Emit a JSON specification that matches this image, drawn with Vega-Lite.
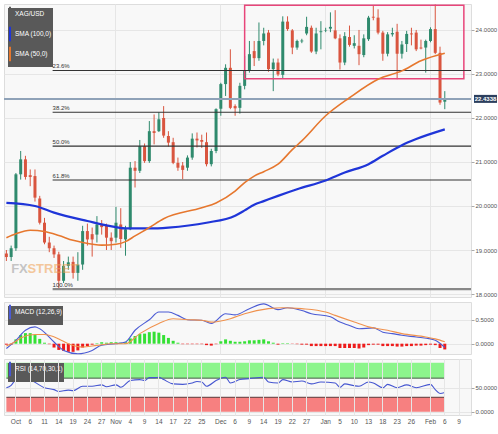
{
  "$schema": "https://vega.github.io/schema/vega-lite/v6.json",
  "padding": {"left": 1, "top": 3, "right": 0, "bottom": 0},
  "spacing": 5,
  "bounds": "flush",
  "background": "#ffffff",
  "config": {
    "font": "Liberation Sans Narrow, Liberation Sans, sans-serif",
    "view": {"stroke": "#dddddd", "fill": "#f8f8f8"},
    "axis": {"labelFont": "Liberation Sans Narrow, Liberation Sans, sans-serif", "labelFontSize": 6, "labelColor": "#555555", "tickColor": "#aaaaaa", "domain": false, "gridColor": "#e6e6e6", "title": null},
    "legend": {"orient": "top-left", "offset": 4, "fillColor": "#595959", "padding": 1, "labelColor": "#ffffff", "labelFontSize": 6.5, "labelFont": "Liberation Sans Narrow, Liberation Sans, sans-serif", "symbolType": "M-1,-1.8V1.8", "symbolSize": 64, "symbolStrokeWidth": 2, "rowPadding": 4, "labelOffset": -4}
  },
  "resolve": {"scale": {"color": "independent"}, "legend": {"color": "independent"}},
  "datasets": {
    "candles": [
      {"date":"2022-09-29","open":18.92,"high":19.00,"low":18.75,"close":18.84},
      {"date":"2022-09-30","open":18.84,"high":19.10,"low":18.75,"close":19.04},
      {"date":"2022-10-03","open":19.04,"high":20.75,"low":18.98,"close":20.72},
      {"date":"2022-10-04","open":20.72,"high":21.25,"low":20.60,"close":21.06},
      {"date":"2022-10-05","open":21.06,"high":21.14,"low":20.60,"close":20.66},
      {"date":"2022-10-06","open":20.70,"high":20.83,"low":20.45,"close":20.66},
      {"date":"2022-10-07","open":20.68,"high":20.83,"low":20.10,"close":20.19},
      {"date":"2022-10-10","open":20.17,"high":20.23,"low":19.58,"close":19.62},
      {"date":"2022-10-11","open":19.62,"high":19.73,"low":19.13,"close":19.17},
      {"date":"2022-10-12","open":19.17,"high":19.30,"low":18.95,"close":19.04},
      {"date":"2022-10-13","open":19.04,"high":19.10,"low":18.82,"close":18.90},
      {"date":"2022-10-14","open":18.90,"high":18.96,"low":18.11,"close":18.30},
      {"date":"2022-10-17","open":18.30,"high":18.75,"low":18.25,"close":18.64},
      {"date":"2022-10-18","open":18.64,"high":18.85,"low":18.55,"close":18.72},
      {"date":"2022-10-19","open":18.73,"high":18.85,"low":18.35,"close":18.48},
      {"date":"2022-10-20","open":18.48,"high":18.95,"low":18.30,"close":18.67},
      {"date":"2022-10-21","open":18.67,"high":19.55,"low":18.55,"close":19.43},
      {"date":"2022-10-24","open":19.43,"high":19.60,"low":19.10,"close":19.24},
      {"date":"2022-10-25","open":19.36,"high":19.51,"low":18.85,"close":19.24},
      {"date":"2022-10-26","open":19.35,"high":19.77,"low":19.17,"close":19.58},
      {"date":"2022-10-27","open":19.58,"high":19.68,"low":19.35,"close":19.52},
      {"date":"2022-10-28","open":19.55,"high":19.60,"low":19.00,"close":19.28},
      {"date":"2022-10-31","open":19.28,"high":19.40,"low":19.00,"close":19.20},
      {"date":"2022-11-01","open":19.28,"high":19.98,"low":19.17,"close":19.62},
      {"date":"2022-11-02","open":19.58,"high":19.95,"low":19.05,"close":19.25},
      {"date":"2022-11-03","open":19.24,"high":19.55,"low":18.87,"close":19.47},
      {"date":"2022-11-04","open":19.47,"high":21.00,"low":19.45,"close":20.87},
      {"date":"2022-11-07","open":20.87,"high":21.02,"low":20.42,"close":20.80},
      {"date":"2022-11-08","open":20.80,"high":21.50,"low":20.75,"close":21.36},
      {"date":"2022-11-09","open":21.36,"high":21.42,"low":20.98,"close":21.02},
      {"date":"2022-11-10","open":21.02,"high":21.93,"low":20.98,"close":21.70},
      {"date":"2022-11-11","open":21.70,"high":22.08,"low":21.40,"close":21.66},
      {"date":"2022-11-14","open":21.70,"high":22.13,"low":21.68,"close":21.97},
      {"date":"2022-11-15","open":22.00,"high":22.27,"low":21.55,"close":21.60},
      {"date":"2022-11-16","open":21.59,"high":21.70,"low":21.35,"close":21.44},
      {"date":"2022-11-17","open":21.45,"high":21.55,"low":20.95,"close":20.98},
      {"date":"2022-11-18","open":20.98,"high":21.10,"low":20.80,"close":20.87},
      {"date":"2022-11-21","open":20.92,"high":21.00,"low":20.61,"close":20.82},
      {"date":"2022-11-22","open":20.87,"high":21.15,"low":20.80,"close":21.10},
      {"date":"2022-11-23","open":21.10,"high":21.65,"low":21.05,"close":21.53},
      {"date":"2022-11-24","open":21.53,"high":21.67,"low":21.33,"close":21.49},
      {"date":"2022-11-25","open":21.50,"high":21.62,"low":21.32,"close":21.46},
      {"date":"2022-11-28","open":21.45,"high":21.67,"low":20.90,"close":20.95},
      {"date":"2022-11-29","open":20.95,"high":21.30,"low":20.90,"close":21.25},
      {"date":"2022-11-30","open":21.25,"high":22.22,"low":21.20,"close":22.20},
      {"date":"2022-12-01","open":22.21,"high":22.80,"low":22.05,"close":22.77},
      {"date":"2022-12-02","open":22.77,"high":23.22,"low":22.50,"close":23.14},
      {"date":"2022-12-05","open":23.14,"high":23.56,"low":22.20,"close":22.23},
      {"date":"2022-12-06","open":22.27,"high":22.31,"low":22.05,"close":22.22},
      {"date":"2022-12-07","open":22.23,"high":22.80,"low":22.10,"close":22.73},
      {"date":"2022-12-08","open":22.73,"high":23.41,"low":22.65,"close":23.07},
      {"date":"2022-12-09","open":23.07,"high":23.75,"low":23.03,"close":23.45},
      {"date":"2022-12-12","open":23.52,"high":23.75,"low":23.18,"close":23.36},
      {"date":"2022-12-13","open":23.36,"high":24.17,"low":23.30,"close":23.75},
      {"date":"2022-12-14","open":23.75,"high":24.05,"low":23.65,"close":23.92},
      {"date":"2022-12-15","open":23.94,"high":24.00,"low":23.05,"close":23.11},
      {"date":"2022-12-16","open":23.11,"high":23.35,"low":22.61,"close":23.26},
      {"date":"2022-12-19","open":23.26,"high":23.35,"low":22.95,"close":22.99},
      {"date":"2022-12-20","open":22.98,"high":24.31,"low":22.90,"close":24.19},
      {"date":"2022-12-21","open":24.19,"high":24.31,"low":23.98,"close":24.02},
      {"date":"2022-12-22","open":23.99,"high":24.02,"low":23.45,"close":23.60},
      {"date":"2022-12-23","open":23.60,"high":23.78,"low":23.55,"close":23.75},
      {"date":"2022-12-26","open":23.74,"high":23.80,"low":23.70,"close":23.76},
      {"date":"2022-12-27","open":23.92,"high":24.30,"low":23.88,"close":24.07},
      {"date":"2022-12-28","open":24.05,"high":24.10,"low":23.48,"close":23.51},
      {"date":"2022-12-29","open":23.51,"high":24.05,"low":23.45,"close":23.92},
      {"date":"2022-12-30","open":23.95,"high":24.20,"low":23.56,"close":23.97},
      {"date":"2023-01-02","open":23.99,"high":24.05,"low":23.95,"close":24.00},
      {"date":"2023-01-03","open":24.03,"high":24.40,"low":23.95,"close":24.07},
      {"date":"2023-01-04","open":23.99,"high":24.45,"low":23.79,"close":23.81},
      {"date":"2023-01-05","open":23.81,"high":23.90,"low":23.10,"close":23.26},
      {"date":"2023-01-06","open":23.26,"high":23.95,"low":23.20,"close":23.86},
      {"date":"2023-01-09","open":23.84,"high":24.10,"low":23.62,"close":23.66},
      {"date":"2023-01-10","open":23.64,"high":23.88,"low":23.58,"close":23.70},
      {"date":"2023-01-11","open":23.64,"high":24.00,"low":23.20,"close":23.45},
      {"date":"2023-01-12","open":23.43,"high":23.90,"low":23.38,"close":23.81},
      {"date":"2023-01-13","open":23.79,"high":24.32,"low":23.75,"close":24.28},
      {"date":"2023-01-16","open":24.30,"high":24.55,"low":24.22,"close":24.28},
      {"date":"2023-01-17","open":24.28,"high":24.47,"low":23.90,"close":23.94},
      {"date":"2023-01-18","open":23.94,"high":23.98,"low":23.30,"close":23.46},
      {"date":"2023-01-19","open":23.46,"high":23.95,"low":23.40,"close":23.90},
      {"date":"2023-01-20","open":23.90,"high":24.05,"low":23.85,"close":23.93},
      {"date":"2023-01-23","open":23.96,"high":24.14,"low":22.88,"close":23.46},
      {"date":"2023-01-24","open":23.46,"high":23.75,"low":23.35,"close":23.67},
      {"date":"2023-01-25","open":23.68,"high":23.98,"low":23.50,"close":23.91},
      {"date":"2023-01-26","open":23.92,"high":24.05,"low":23.65,"close":23.90},
      {"date":"2023-01-27","open":23.94,"high":24.00,"low":23.52,"close":23.56},
      {"date":"2023-01-30","open":23.60,"high":23.78,"low":23.56,"close":23.58},
      {"date":"2023-01-31","open":23.60,"high":23.78,"low":23.03,"close":23.75},
      {"date":"2023-02-01","open":23.75,"high":24.06,"low":23.72,"close":24.02},
      {"date":"2023-02-02","open":24.02,"high":24.58,"low":23.45,"close":23.48},
      {"date":"2023-02-03","open":23.48,"high":23.62,"low":22.30,"close":22.35},
      {"date":"2023-02-06","open":22.37,"high":22.61,"low":22.20,"close":22.43}
    ],
    "sma": [
      {"date":"2022-09-29","series":"SMA (100,0)","value":20.07},
      {"date":"2022-10-07","series":"SMA (100,0)","value":20.00},
      {"date":"2022-10-13","series":"SMA (100,0)","value":19.85},
      {"date":"2022-10-24","series":"SMA (100,0)","value":19.66},
      {"date":"2022-11-01","series":"SMA (100,0)","value":19.52},
      {"date":"2022-11-03","series":"SMA (100,0)","value":19.49},
      {"date":"2022-11-10","series":"SMA (100,0)","value":19.49},
      {"date":"2022-11-16","series":"SMA (100,0)","value":19.51},
      {"date":"2022-11-28","series":"SMA (100,0)","value":19.62},
      {"date":"2022-12-06","series":"SMA (100,0)","value":19.78},
      {"date":"2022-12-08","series":"SMA (100,0)","value":19.90},
      {"date":"2022-12-12","series":"SMA (100,0)","value":20.03},
      {"date":"2022-12-14","series":"SMA (100,0)","value":20.11},
      {"date":"2022-12-19","series":"SMA (100,0)","value":20.23},
      {"date":"2022-12-23","series":"SMA (100,0)","value":20.38},
      {"date":"2023-01-02","series":"SMA (100,0)","value":20.58},
      {"date":"2023-01-06","series":"SMA (100,0)","value":20.76},
      {"date":"2023-01-13","series":"SMA (100,0)","value":20.95},
      {"date":"2023-01-18","series":"SMA (100,0)","value":21.14},
      {"date":"2023-01-24","series":"SMA (100,0)","value":21.38},
      {"date":"2023-01-27","series":"SMA (100,0)","value":21.52},
      {"date":"2023-02-06","series":"SMA (100,0)","value":21.74},
      {"date":"2022-09-29","series":"SMA (50,0)","value":19.28},
      {"date":"2022-10-03","series":"SMA (50,0)","value":19.37},
      {"date":"2022-10-06","series":"SMA (50,0)","value":19.45},
      {"date":"2022-10-11","series":"SMA (50,0)","value":19.42},
      {"date":"2022-10-14","series":"SMA (50,0)","value":19.33},
      {"date":"2022-10-19","series":"SMA (50,0)","value":19.22},
      {"date":"2022-10-21","series":"SMA (50,0)","value":19.17},
      {"date":"2022-10-27","series":"SMA (50,0)","value":19.11},
      {"date":"2022-11-01","series":"SMA (50,0)","value":19.13},
      {"date":"2022-11-03","series":"SMA (50,0)","value":19.19},
      {"date":"2022-11-07","series":"SMA (50,0)","value":19.32},
      {"date":"2022-11-10","series":"SMA (50,0)","value":19.51},
      {"date":"2022-11-15","series":"SMA (50,0)","value":19.71},
      {"date":"2022-11-25","series":"SMA (50,0)","value":19.96},
      {"date":"2022-11-30","series":"SMA (50,0)","value":20.07},
      {"date":"2022-12-06","series":"SMA (50,0)","value":20.34},
      {"date":"2022-12-08","series":"SMA (50,0)","value":20.53},
      {"date":"2022-12-12","series":"SMA (50,0)","value":20.68},
      {"date":"2022-12-14","series":"SMA (50,0)","value":20.78},
      {"date":"2022-12-19","series":"SMA (50,0)","value":20.95},
      {"date":"2022-12-22","series":"SMA (50,0)","value":21.28},
      {"date":"2022-12-26","series":"SMA (50,0)","value":21.48},
      {"date":"2023-01-02","series":"SMA (50,0)","value":22.05},
      {"date":"2023-01-09","series":"SMA (50,0)","value":22.46},
      {"date":"2023-01-17","series":"SMA (50,0)","value":22.88},
      {"date":"2023-01-24","series":"SMA (50,0)","value":23.07},
      {"date":"2023-01-30","series":"SMA (50,0)","value":23.30},
      {"date":"2023-02-06","series":"SMA (50,0)","value":23.47}
    ],
    "fib": [
      {"level":"23.6%","price":23.08},
      {"level":"38.2%","price":22.13},
      {"level":"50.0%","price":21.36},
      {"level":"61.8%","price":20.59},
      {"level":"100.0%","price":18.11}
    ],
    "macdhist": [
      {"date":"2022-09-29","hist":-0.02},{"date":"2022-09-30","hist":-0.02},{"date":"2022-10-03","hist":0.09},{"date":"2022-10-04","hist":0.18},{"date":"2022-10-05","hist":0.22},{"date":"2022-10-06","hist":0.22},{"date":"2022-10-07","hist":0.18},{"date":"2022-10-10","hist":0.10},{"date":"2022-10-11","hist":0.02},{"date":"2022-10-12","hist":-0.01},{"date":"2022-10-13","hist":-0.08},{"date":"2022-10-14","hist":-0.13},{"date":"2022-10-17","hist":-0.15},{"date":"2022-10-18","hist":-0.17},{"date":"2022-10-19","hist":-0.17},{"date":"2022-10-20","hist":-0.14},{"date":"2022-10-21","hist":-0.08},{"date":"2022-10-24","hist":-0.05},{"date":"2022-10-25","hist":-0.02},{"date":"2022-10-26","hist":0.01},{"date":"2022-10-27","hist":0.03},{"date":"2022-10-28","hist":0.02},{"date":"2022-10-31","hist":0.03},
      {"date":"2022-11-01","hist":0.03},{"date":"2022-11-02","hist":0.02},{"date":"2022-11-03","hist":0.03},{"date":"2022-11-04","hist":0.11},{"date":"2022-11-07","hist":0.16},{"date":"2022-11-08","hist":0.20},{"date":"2022-11-09","hist":0.21},{"date":"2022-11-10","hist":0.24},{"date":"2022-11-11","hist":0.25},{"date":"2022-11-14","hist":0.23},{"date":"2022-11-15","hist":0.18},{"date":"2022-11-16","hist":0.12},{"date":"2022-11-17","hist":0.06},{"date":"2022-11-18","hist":0.02},{"date":"2022-11-21","hist":-0.01},{"date":"2022-11-22","hist":-0.01},{"date":"2022-11-23","hist":-0.01},{"date":"2022-11-24","hist":-0.01},{"date":"2022-11-25","hist":-0.01},{"date":"2022-11-28","hist":-0.03},{"date":"2022-11-29","hist":-0.04},{"date":"2022-11-30","hist":-0.01},
      {"date":"2022-12-01","hist":0.05},{"date":"2022-12-02","hist":0.09},{"date":"2022-12-05","hist":0.06},{"date":"2022-12-06","hist":0.04},{"date":"2022-12-07","hist":0.04},{"date":"2022-12-08","hist":0.05},{"date":"2022-12-09","hist":0.07},{"date":"2022-12-12","hist":0.07},{"date":"2022-12-13","hist":0.08},{"date":"2022-12-14","hist":0.09},{"date":"2022-12-15","hist":0.05},{"date":"2022-12-16","hist":0.02},{"date":"2022-12-19","hist":-0.02},{"date":"2022-12-20","hist":0.01},{"date":"2022-12-21","hist":0.01},{"date":"2022-12-22","hist":-0.005},{"date":"2022-12-23","hist":-0.01},{"date":"2022-12-26","hist":-0.02},{"date":"2022-12-27","hist":-0.02},{"date":"2022-12-28","hist":-0.05},{"date":"2022-12-29","hist":-0.05},{"date":"2022-12-30","hist":-0.05},
      {"date":"2023-01-02","hist":-0.05},{"date":"2023-01-03","hist":-0.05},{"date":"2023-01-04","hist":-0.05},{"date":"2023-01-05","hist":-0.09},{"date":"2023-01-06","hist":-0.09},{"date":"2023-01-09","hist":-0.09},{"date":"2023-01-10","hist":-0.09},{"date":"2023-01-11","hist":-0.10},{"date":"2023-01-12","hist":-0.08},{"date":"2023-01-13","hist":-0.03},{"date":"2023-01-16","hist":-0.02},{"date":"2023-01-17","hist":-0.02},{"date":"2023-01-18","hist":-0.05},{"date":"2023-01-19","hist":-0.05},{"date":"2023-01-20","hist":-0.05},{"date":"2023-01-23","hist":-0.06},{"date":"2023-01-24","hist":-0.06},{"date":"2023-01-25","hist":-0.05},{"date":"2023-01-26","hist":-0.05},{"date":"2023-01-27","hist":-0.04},{"date":"2023-01-30","hist":-0.04},{"date":"2023-01-31","hist":-0.03},
      {"date":"2023-02-01","hist":-0.02},{"date":"2023-02-02","hist":-0.03},{"date":"2023-02-03","hist":-0.09},{"date":"2023-02-06","hist":-0.12}
    ],
    "macdline": [
      {"date":"2022-09-29","series":"MACD (12,26,9)","value":-0.10},
      {"date":"2022-10-03","series":"MACD (12,26,9)","value":0.07},
      {"date":"2022-10-05","series":"MACD (12,26,9)","value":0.28},
      {"date":"2022-10-07","series":"MACD (12,26,9)","value":0.35},
      {"date":"2022-10-10","series":"MACD (12,26,9)","value":0.31},
      {"date":"2022-10-13","series":"MACD (12,26,9)","value":0.035},
      {"date":"2022-10-17","series":"MACD (12,26,9)","value":-0.14},
      {"date":"2022-10-20","series":"MACD (12,26,9)","value":-0.21},
      {"date":"2022-10-25","series":"MACD (12,26,9)","value":-0.14},
      {"date":"2022-10-27","series":"MACD (12,26,9)","value":-0.03},
      {"date":"2022-11-01","series":"MACD (12,26,9)","value":0.0},
      {"date":"2022-11-03","series":"MACD (12,26,9)","value":0.035},
      {"date":"2022-11-07","series":"MACD (12,26,9)","value":0.28},
      {"date":"2022-11-10","series":"MACD (12,26,9)","value":0.50},
      {"date":"2022-11-14","series":"MACD (12,26,9)","value":0.66},
      {"date":"2022-11-16","series":"MACD (12,26,9)","value":0.66},
      {"date":"2022-11-18","series":"MACD (12,26,9)","value":0.59},
      {"date":"2022-11-22","series":"MACD (12,26,9)","value":0.50},
      {"date":"2022-11-25","series":"MACD (12,26,9)","value":0.49},
      {"date":"2022-11-29","series":"MACD (12,26,9)","value":0.42},
      {"date":"2022-12-02","series":"MACD (12,26,9)","value":0.625},
      {"date":"2022-12-06","series":"MACD (12,26,9)","value":0.60},
      {"date":"2022-12-09","series":"MACD (12,26,9)","value":0.73},
      {"date":"2022-12-14","series":"MACD (12,26,9)","value":0.83},
      {"date":"2022-12-19","series":"MACD (12,26,9)","value":0.71},
      {"date":"2022-12-21","series":"MACD (12,26,9)","value":0.75},
      {"date":"2022-12-26","series":"MACD (12,26,9)","value":0.69},
      {"date":"2022-12-28","series":"MACD (12,26,9)","value":0.625},
      {"date":"2023-01-03","series":"MACD (12,26,9)","value":0.56},
      {"date":"2023-01-05","series":"MACD (12,26,9)","value":0.45},
      {"date":"2023-01-09","series":"MACD (12,26,9)","value":0.38},
      {"date":"2023-01-11","series":"MACD (12,26,9)","value":0.31},
      {"date":"2023-01-16","series":"MACD (12,26,9)","value":0.33},
      {"date":"2023-01-18","series":"MACD (12,26,9)","value":0.24},
      {"date":"2023-01-20","series":"MACD (12,26,9)","value":0.21},
      {"date":"2023-01-24","series":"MACD (12,26,9)","value":0.175},
      {"date":"2023-01-27","series":"MACD (12,26,9)","value":0.14},
      {"date":"2023-02-01","series":"MACD (12,26,9)","value":0.10},
      {"date":"2023-02-02","series":"MACD (12,26,9)","value":0.07},
      {"date":"2023-02-06","series":"MACD (12,26,9)","value":-0.08},
      {"date":"2022-09-29","series":"Signal","value":-0.05},
      {"date":"2022-10-03","series":"Signal","value":0.05},
      {"date":"2022-10-04","series":"Signal","value":0.12},
      {"date":"2022-10-07","series":"Signal","value":0.19},
      {"date":"2022-10-11","series":"Signal","value":0.19},
      {"date":"2022-10-14","series":"Signal","value":0.10},
      {"date":"2022-10-18","series":"Signal","value":0.0},
      {"date":"2022-10-21","series":"Signal","value":-0.07},
      {"date":"2022-10-26","series":"Signal","value":-0.035},
      {"date":"2022-10-31","series":"Signal","value":0.0},
      {"date":"2022-11-03","series":"Signal","value":0.0},
      {"date":"2022-11-08","series":"Signal","value":0.21},
      {"date":"2022-11-14","series":"Signal","value":0.42},
      {"date":"2022-11-17","series":"Signal","value":0.52},
      {"date":"2022-11-22","series":"Signal","value":0.50},
      {"date":"2022-11-25","series":"Signal","value":0.49},
      {"date":"2022-11-29","series":"Signal","value":0.45},
      {"date":"2022-12-05","series":"Signal","value":0.52},
      {"date":"2022-12-08","series":"Signal","value":0.625},
      {"date":"2022-12-15","series":"Signal","value":0.73},
      {"date":"2022-12-20","series":"Signal","value":0.75},
      {"date":"2022-12-26","series":"Signal","value":0.73},
      {"date":"2023-01-02","series":"Signal","value":0.66},
      {"date":"2023-01-04","series":"Signal","value":0.59},
      {"date":"2023-01-10","series":"Signal","value":0.45},
      {"date":"2023-01-13","series":"Signal","value":0.35},
      {"date":"2023-01-19","series":"Signal","value":0.28},
      {"date":"2023-01-24","series":"Signal","value":0.21},
      {"date":"2023-01-31","series":"Signal","value":0.14},
      {"date":"2023-02-02","series":"Signal","value":0.10},
      {"date":"2023-02-06","series":"Signal","value":0.04}
    ],
    "rsi": [
      {"date":"2022-09-29","rsi":50},{"date":"2022-09-30","rsi":55},{"date":"2022-10-03","rsi":68},{"date":"2022-10-04","rsi":74},{"date":"2022-10-06","rsi":67},{"date":"2022-10-11","rsi":50},{"date":"2022-10-13","rsi":46},{"date":"2022-10-14","rsi":42},{"date":"2022-10-18","rsi":45},{"date":"2022-10-19","rsi":44},{"date":"2022-10-21","rsi":53},{"date":"2022-10-25","rsi":53},{"date":"2022-10-27","rsi":56},{"date":"2022-10-28","rsi":52},
      {"date":"2022-11-01","rsi":56},{"date":"2022-11-02","rsi":51},{"date":"2022-11-04","rsi":65},{"date":"2022-11-08","rsi":67},{"date":"2022-11-09","rsi":65},{"date":"2022-11-10","rsi":71},{"date":"2022-11-11","rsi":71},{"date":"2022-11-14","rsi":72},{"date":"2022-11-15","rsi":67},{"date":"2022-11-17","rsi":58},{"date":"2022-11-21","rsi":57},{"date":"2022-11-23","rsi":60},{"date":"2022-11-24","rsi":63},{"date":"2022-11-25","rsi":62},{"date":"2022-11-28","rsi":53},{"date":"2022-11-30","rsi":65},
      {"date":"2022-12-01","rsi":70},{"date":"2022-12-02","rsi":72},{"date":"2022-12-05","rsi":60},{"date":"2022-12-07","rsi":67},{"date":"2022-12-09","rsi":69},{"date":"2022-12-14","rsi":72},{"date":"2022-12-15","rsi":62},{"date":"2022-12-19","rsi":60},{"date":"2022-12-20","rsi":67},{"date":"2022-12-22","rsi":62},{"date":"2022-12-26","rsi":64},{"date":"2022-12-28","rsi":58},{"date":"2022-12-30","rsi":62},
      {"date":"2023-01-04","rsi":60},{"date":"2023-01-05","rsi":51},{"date":"2023-01-06","rsi":58},{"date":"2023-01-10","rsi":54},{"date":"2023-01-11","rsi":53},{"date":"2023-01-13","rsi":62},{"date":"2023-01-16","rsi":60},{"date":"2023-01-18","rsi":50},{"date":"2023-01-19","rsi":57},{"date":"2023-01-23","rsi":50},{"date":"2023-01-25","rsi":56},{"date":"2023-01-27","rsi":50},{"date":"2023-02-01","rsi":57},{"date":"2023-02-02","rsi":46},{"date":"2023-02-03","rsi":38},{"date":"2023-02-06","rsi":40}
    ]
  },
  "vconcat": [
    {
      "width": 467,
      "height": 293,
      "layer": [
        {
          "data": {"name": "candles"},
          "mark": {"type": "rule", "strokeWidth": 1},
          "encoding": {
            "x": {"field": "date", "type": "ordinal", "scale": {"domain": ["2022-09-29","2022-09-30","2022-10-03","2022-10-04","2022-10-05","2022-10-06","2022-10-07","2022-10-10","2022-10-11","2022-10-12","2022-10-13","2022-10-14","2022-10-17","2022-10-18","2022-10-19","2022-10-20","2022-10-21","2022-10-24","2022-10-25","2022-10-26","2022-10-27","2022-10-28","2022-10-31","2022-11-01","2022-11-02","2022-11-03","2022-11-04","2022-11-07","2022-11-08","2022-11-09","2022-11-10","2022-11-11","2022-11-14","2022-11-15","2022-11-16","2022-11-17","2022-11-18","2022-11-21","2022-11-22","2022-11-23","2022-11-24","2022-11-25","2022-11-28","2022-11-29","2022-11-30","2022-12-01","2022-12-02","2022-12-05","2022-12-06","2022-12-07","2022-12-08","2022-12-09","2022-12-12","2022-12-13","2022-12-14","2022-12-15","2022-12-16","2022-12-19","2022-12-20","2022-12-21","2022-12-22","2022-12-23","2022-12-26","2022-12-27","2022-12-28","2022-12-29","2022-12-30","2023-01-02","2023-01-03","2023-01-04","2023-01-05","2023-01-06","2023-01-09","2023-01-10","2023-01-11","2023-01-12","2023-01-13","2023-01-16","2023-01-17","2023-01-18","2023-01-19","2023-01-20","2023-01-23","2023-01-24","2023-01-25","2023-01-26","2023-01-27","2023-01-30","2023-01-31","2023-02-01","2023-02-02","2023-02-03","2023-02-06","2023-02-07","2023-02-08","2023-02-09","2023-02-10","2023-02-13"], "paddingInner": 0, "paddingOuter": 0}, "axis": {"labels": false, "ticks": false, "domain": false, "title": null, "grid": true, "values": ["2022-11-01","2022-12-01","2023-01-02","2023-02-01"]}},
            "y": {"field": "low", "type": "quantitative", "scale": {"domain": [17.932, 24.59], "nice": false, "zero": false}, "axis": {"orient": "right", "title": null, "values": [18, 18.5, 19, 19.5, 20, 20.5, 21, 21.5, 22, 22.5, 23, 23.5, 24], "format": ".4f", "grid": true, "tickSize": 3, "labelPadding": 1}},
            "y2": {"field": "high"},
            "color": {"condition": {"test": "datum.close >= datum.open", "value": "#2f8a6d"}, "value": "#d9553f"}
          }
        },
        {
          "data": {"name": "candles"},
          "mark": {"type": "bar", "size": 3},
          "encoding": {
            "x": {"field": "date", "type": "ordinal"},
            "y": {"field": "open", "type": "quantitative", "title": null},
            "y2": {"field": "close"},
            "color": {"condition": {"test": "datum.close >= datum.open", "value": "#2f8a6d"}, "value": "#d9553f"}
          }
        },
        {
          "data": {"values": [{}]},
          "mark": {"type": "rect", "filled": false, "stroke": "#e8457a", "strokeWidth": 1.5},
          "encoding": {
            "x": {"datum": "2022-12-08", "type": "ordinal", "bandPosition": 0.5},
            "x2": {"datum": "2023-02-10", "bandPosition": 0.5},
            "y": {"datum": 24.56, "type": "quantitative", "title": null},
            "y2": {"datum": 22.89}
          }
        },
        {
          "data": {"name": "fib"},
          "mark": {"type": "rule"},
          "encoding": {
            "x": {"datum": "2022-10-13", "type": "ordinal", "bandPosition": 0.2},
            "x2": {"value": "width"},
            "y": {"field": "price", "type": "quantitative", "title": null},
            "color": {"condition": {"test": "datum.level == '100.0%'", "value": "#888888"}, "value": "#333333"},
            "strokeWidth": {"condition": {"test": "datum.level == '100.0%'", "value": 2.2}, "value": 1.1}
          }
        },
        {
          "data": {"name": "fib"},
          "mark": {"type": "text", "align": "left", "baseline": "bottom", "dy": -1, "fontSize": 6, "color": "#333333"},
          "encoding": {
            "x": {"datum": "2022-10-13", "type": "ordinal", "bandPosition": 0.2},
            "y": {"field": "price", "type": "quantitative", "title": null},
            "text": {"field": "level"}
          }
        },
        {
          "data": {"values": [{}]},
          "mark": {"type": "rule", "color": "#8fa2b8", "strokeWidth": 2},
          "encoding": {"y": {"datum": 22.4338, "type": "quantitative", "title": null}}
        },
        {
          "data": {"name": "sma"},
          "mark": {"type": "line", "interpolate": "monotone"},
          "encoding": {
            "x": {"field": "date", "type": "ordinal"},
            "y": {"field": "value", "type": "quantitative", "title": null},
            "color": {"field": "series", "type": "nominal", "scale": {"domain": ["XAG/USD", "SMA (100,0)", "SMA (50,0)"], "range": ["#595959", "#1f35d8", "#e6772e"]}, "legend": {"title": null, "orient": "top-left", "rowPadding": -4}},
            "strokeWidth": {"condition": {"test": "datum.series == 'SMA (100,0)'", "value": 2.2}, "value": 1.6}
          }
        },
        {
          "data": {"values": [{}]},
          "mark": {"type": "point", "filled": true, "shape": "M0.115,-0.154H1V0.154H0.115Z", "size": 2704, "color": "#2c3f5e", "opacity": 1},
          "encoding": {"x": {"value": "width"}, "y": {"datum": 22.4338, "type": "quantitative", "title": null}}
        },
        {
          "data": {"values": [{}]},
          "mark": {"type": "text", "text": "22.4338", "dx": 14.5, "fontSize": 6, "fontWeight": "bold", "color": "#ffffff"},
          "encoding": {"x": {"value": "width"}, "y": {"datum": 22.4338, "type": "quantitative", "title": null}}
        },
        {
          "data": {"values": [{}]},
          "mark": {"type": "text", "text": "FX", "align": "left", "fontSize": 13, "fontWeight": "bold", "color": "#9a9a9a", "opacity": 0.55},
          "encoding": {"x": {"datum": "2022-09-30", "type": "ordinal"}, "y": {"datum": 18.57, "type": "quantitative", "title": null}}
        },
        {
          "data": {"values": [{}]},
          "mark": {"type": "text", "text": "STREET", "align": "left", "dx": 2, "fontSize": 13, "fontWeight": "bold", "color": "#f0a050", "opacity": 0.55},
          "encoding": {"x": {"datum": "2022-10-05", "type": "ordinal"}, "y": {"datum": 18.57, "type": "quantitative", "title": null}}
        }
      ]
    },
    {
      "width": 467,
      "height": 52,
      "layer": [
        {
          "data": {"name": "macdhist"},
          "mark": {"type": "bar", "size": 3},
          "encoding": {
            "x": {"field": "date", "type": "ordinal", "scale": {"domain": ["2022-09-29","2022-09-30","2022-10-03","2022-10-04","2022-10-05","2022-10-06","2022-10-07","2022-10-10","2022-10-11","2022-10-12","2022-10-13","2022-10-14","2022-10-17","2022-10-18","2022-10-19","2022-10-20","2022-10-21","2022-10-24","2022-10-25","2022-10-26","2022-10-27","2022-10-28","2022-10-31","2022-11-01","2022-11-02","2022-11-03","2022-11-04","2022-11-07","2022-11-08","2022-11-09","2022-11-10","2022-11-11","2022-11-14","2022-11-15","2022-11-16","2022-11-17","2022-11-18","2022-11-21","2022-11-22","2022-11-23","2022-11-24","2022-11-25","2022-11-28","2022-11-29","2022-11-30","2022-12-01","2022-12-02","2022-12-05","2022-12-06","2022-12-07","2022-12-08","2022-12-09","2022-12-12","2022-12-13","2022-12-14","2022-12-15","2022-12-16","2022-12-19","2022-12-20","2022-12-21","2022-12-22","2022-12-23","2022-12-26","2022-12-27","2022-12-28","2022-12-29","2022-12-30","2023-01-02","2023-01-03","2023-01-04","2023-01-05","2023-01-06","2023-01-09","2023-01-10","2023-01-11","2023-01-12","2023-01-13","2023-01-16","2023-01-17","2023-01-18","2023-01-19","2023-01-20","2023-01-23","2023-01-24","2023-01-25","2023-01-26","2023-01-27","2023-01-30","2023-01-31","2023-02-01","2023-02-02","2023-02-03","2023-02-06","2023-02-07","2023-02-08","2023-02-09","2023-02-10","2023-02-13"], "paddingInner": 0, "paddingOuter": 0}, "axis": {"labels": false, "ticks": false, "domain": false, "title": null, "grid": true, "values": ["2022-11-01","2022-12-01","2023-01-02","2023-02-01"]}},
            "y": {"field": "hist", "type": "quantitative", "scale": {"domain": [-0.215, 0.869], "nice": false, "zero": false}, "axis": {"orient": "right", "title": null, "values": [0, 0.5], "format": ".4f", "grid": true, "tickSize": 3, "labelPadding": 1}},
            "color": {"condition": {"test": "datum.hist >= 0", "value": "#35e035"}, "value": "#ee1c1c"}
          }
        },
        {
          "data": {"name": "macdline"},
          "mark": {"type": "line", "strokeWidth": 1.1, "interpolate": "monotone"},
          "encoding": {
            "x": {"field": "date", "type": "ordinal"},
            "y": {"field": "value", "type": "quantitative", "title": null},
            "color": {"field": "series", "type": "nominal", "scale": {"domain": ["MACD (12,26,9)", "Signal"], "range": ["#4b5bd4", "#f0924e"]}, "legend": {"title": null, "orient": "top-left", "values": ["MACD (12,26,9)"]}}
          }
        }
      ]
    },
    {
      "width": 467,
      "height": 56,
      "layer": [
        {
          "data": {"values": [{}]},
          "mark": {"type": "rect", "color": "#8cf58c"},
          "encoding": {
            "x": {"datum": "2022-09-29", "type": "ordinal", "bandPosition": 0.5, "scale": {"domain": ["2022-09-29","2022-09-30","2022-10-03","2022-10-04","2022-10-05","2022-10-06","2022-10-07","2022-10-10","2022-10-11","2022-10-12","2022-10-13","2022-10-14","2022-10-17","2022-10-18","2022-10-19","2022-10-20","2022-10-21","2022-10-24","2022-10-25","2022-10-26","2022-10-27","2022-10-28","2022-10-31","2022-11-01","2022-11-02","2022-11-03","2022-11-04","2022-11-07","2022-11-08","2022-11-09","2022-11-10","2022-11-11","2022-11-14","2022-11-15","2022-11-16","2022-11-17","2022-11-18","2022-11-21","2022-11-22","2022-11-23","2022-11-24","2022-11-25","2022-11-28","2022-11-29","2022-11-30","2022-12-01","2022-12-02","2022-12-05","2022-12-06","2022-12-07","2022-12-08","2022-12-09","2022-12-12","2022-12-13","2022-12-14","2022-12-15","2022-12-16","2022-12-19","2022-12-20","2022-12-21","2022-12-22","2022-12-23","2022-12-26","2022-12-27","2022-12-28","2022-12-29","2022-12-30","2023-01-02","2023-01-03","2023-01-04","2023-01-05","2023-01-06","2023-01-09","2023-01-10","2023-01-11","2023-01-12","2023-01-13","2023-01-16","2023-01-17","2023-01-18","2023-01-19","2023-01-20","2023-01-23","2023-01-24","2023-01-25","2023-01-26","2023-01-27","2023-01-30","2023-01-31","2023-02-01","2023-02-02","2023-02-03","2023-02-06","2023-02-07","2023-02-08","2023-02-09","2023-02-10","2023-02-13"], "paddingInner": 0, "paddingOuter": 0}, "axis": {"orient": "bottom", "title": null, "ticks": false, "domain": false, "grid": true, "gridColor": "#e6e6e6", "labelPadding": 3, "labelFontSize": 6.5, "labelAngle": 0, "values": ["2022-10-03","2022-10-06","2022-10-11","2022-10-14","2022-10-19","2022-10-24","2022-10-27","2022-11-01","2022-11-04","2022-11-09","2022-11-14","2022-11-17","2022-11-22","2022-11-25","2022-12-01","2022-12-06","2022-12-09","2022-12-14","2022-12-19","2022-12-22","2022-12-27","2023-01-02","2023-01-05","2023-01-10","2023-01-13","2023-01-18","2023-01-23","2023-01-26","2023-02-01","2023-02-06","2023-02-09"], "labelExpr": "indexof(['2022-10-03','2022-11-01','2022-12-01','2023-01-02','2023-02-01'], datum.value) >= 0 ? ['Oct','Nov','Dec','Jan','Feb'][indexof(['2022-10-03','2022-11-01','2022-12-01','2023-01-02','2023-02-01'], datum.value)] : '' + toNumber(slice(datum.value, 8))"}},
            "x2": {"datum": "2023-02-06", "bandPosition": 0.5},
            "y": {"datum": 70, "type": "quantitative", "scale": {"domain": [-7, 110], "nice": false, "zero": false}, "axis": {"orient": "right", "title": null, "values": [0, 50], "format": ".4f", "grid": true, "tickSize": 3, "labelPadding": 1}},
            "y2": {"datum": 102}
          }
        },
        {
          "data": {"values": [{}]},
          "mark": {"type": "rect", "color": "#f78080"},
          "encoding": {
            "x": {"datum": "2022-09-29", "type": "ordinal", "bandPosition": 0.5},
            "x2": {"datum": "2023-02-06", "bandPosition": 0.5},
            "y": {"datum": 0, "type": "quantitative", "title": null},
            "y2": {"datum": 30}
          }
        },
        {
          "data": {"values": [{}]},
          "mark": {"type": "rule", "color": "#4a5a4a", "strokeWidth": 1},
          "encoding": {
            "x": {"datum": "2022-09-29", "type": "ordinal", "bandPosition": 0.5},
            "x2": {"datum": "2023-02-06", "bandPosition": 0.5},
            "y": {"datum": 70, "type": "quantitative", "title": null}
          }
        },
        {
          "data": {"values": [{}]},
          "mark": {"type": "rule", "color": "#5a3a3a", "strokeWidth": 1},
          "encoding": {
            "x": {"datum": "2022-09-29", "type": "ordinal", "bandPosition": 0.5},
            "x2": {"datum": "2023-02-06", "bandPosition": 0.5},
            "y": {"datum": 30, "type": "quantitative", "title": null}
          }
        },
        {
          "data": {"name": "rsi"},
          "mark": {"type": "line", "strokeWidth": 1.1, "interpolate": "monotone"},
          "encoding": {
            "x": {"field": "date", "type": "ordinal"},
            "y": {"field": "rsi", "type": "quantitative", "title": null},
            "color": {"datum": "RSI (14,70,30,1)", "scale": {"range": ["#4656d0"]}, "legend": {"title": null, "orient": "top-left"}}
          }
        }
      ]
    }
  ]
}
